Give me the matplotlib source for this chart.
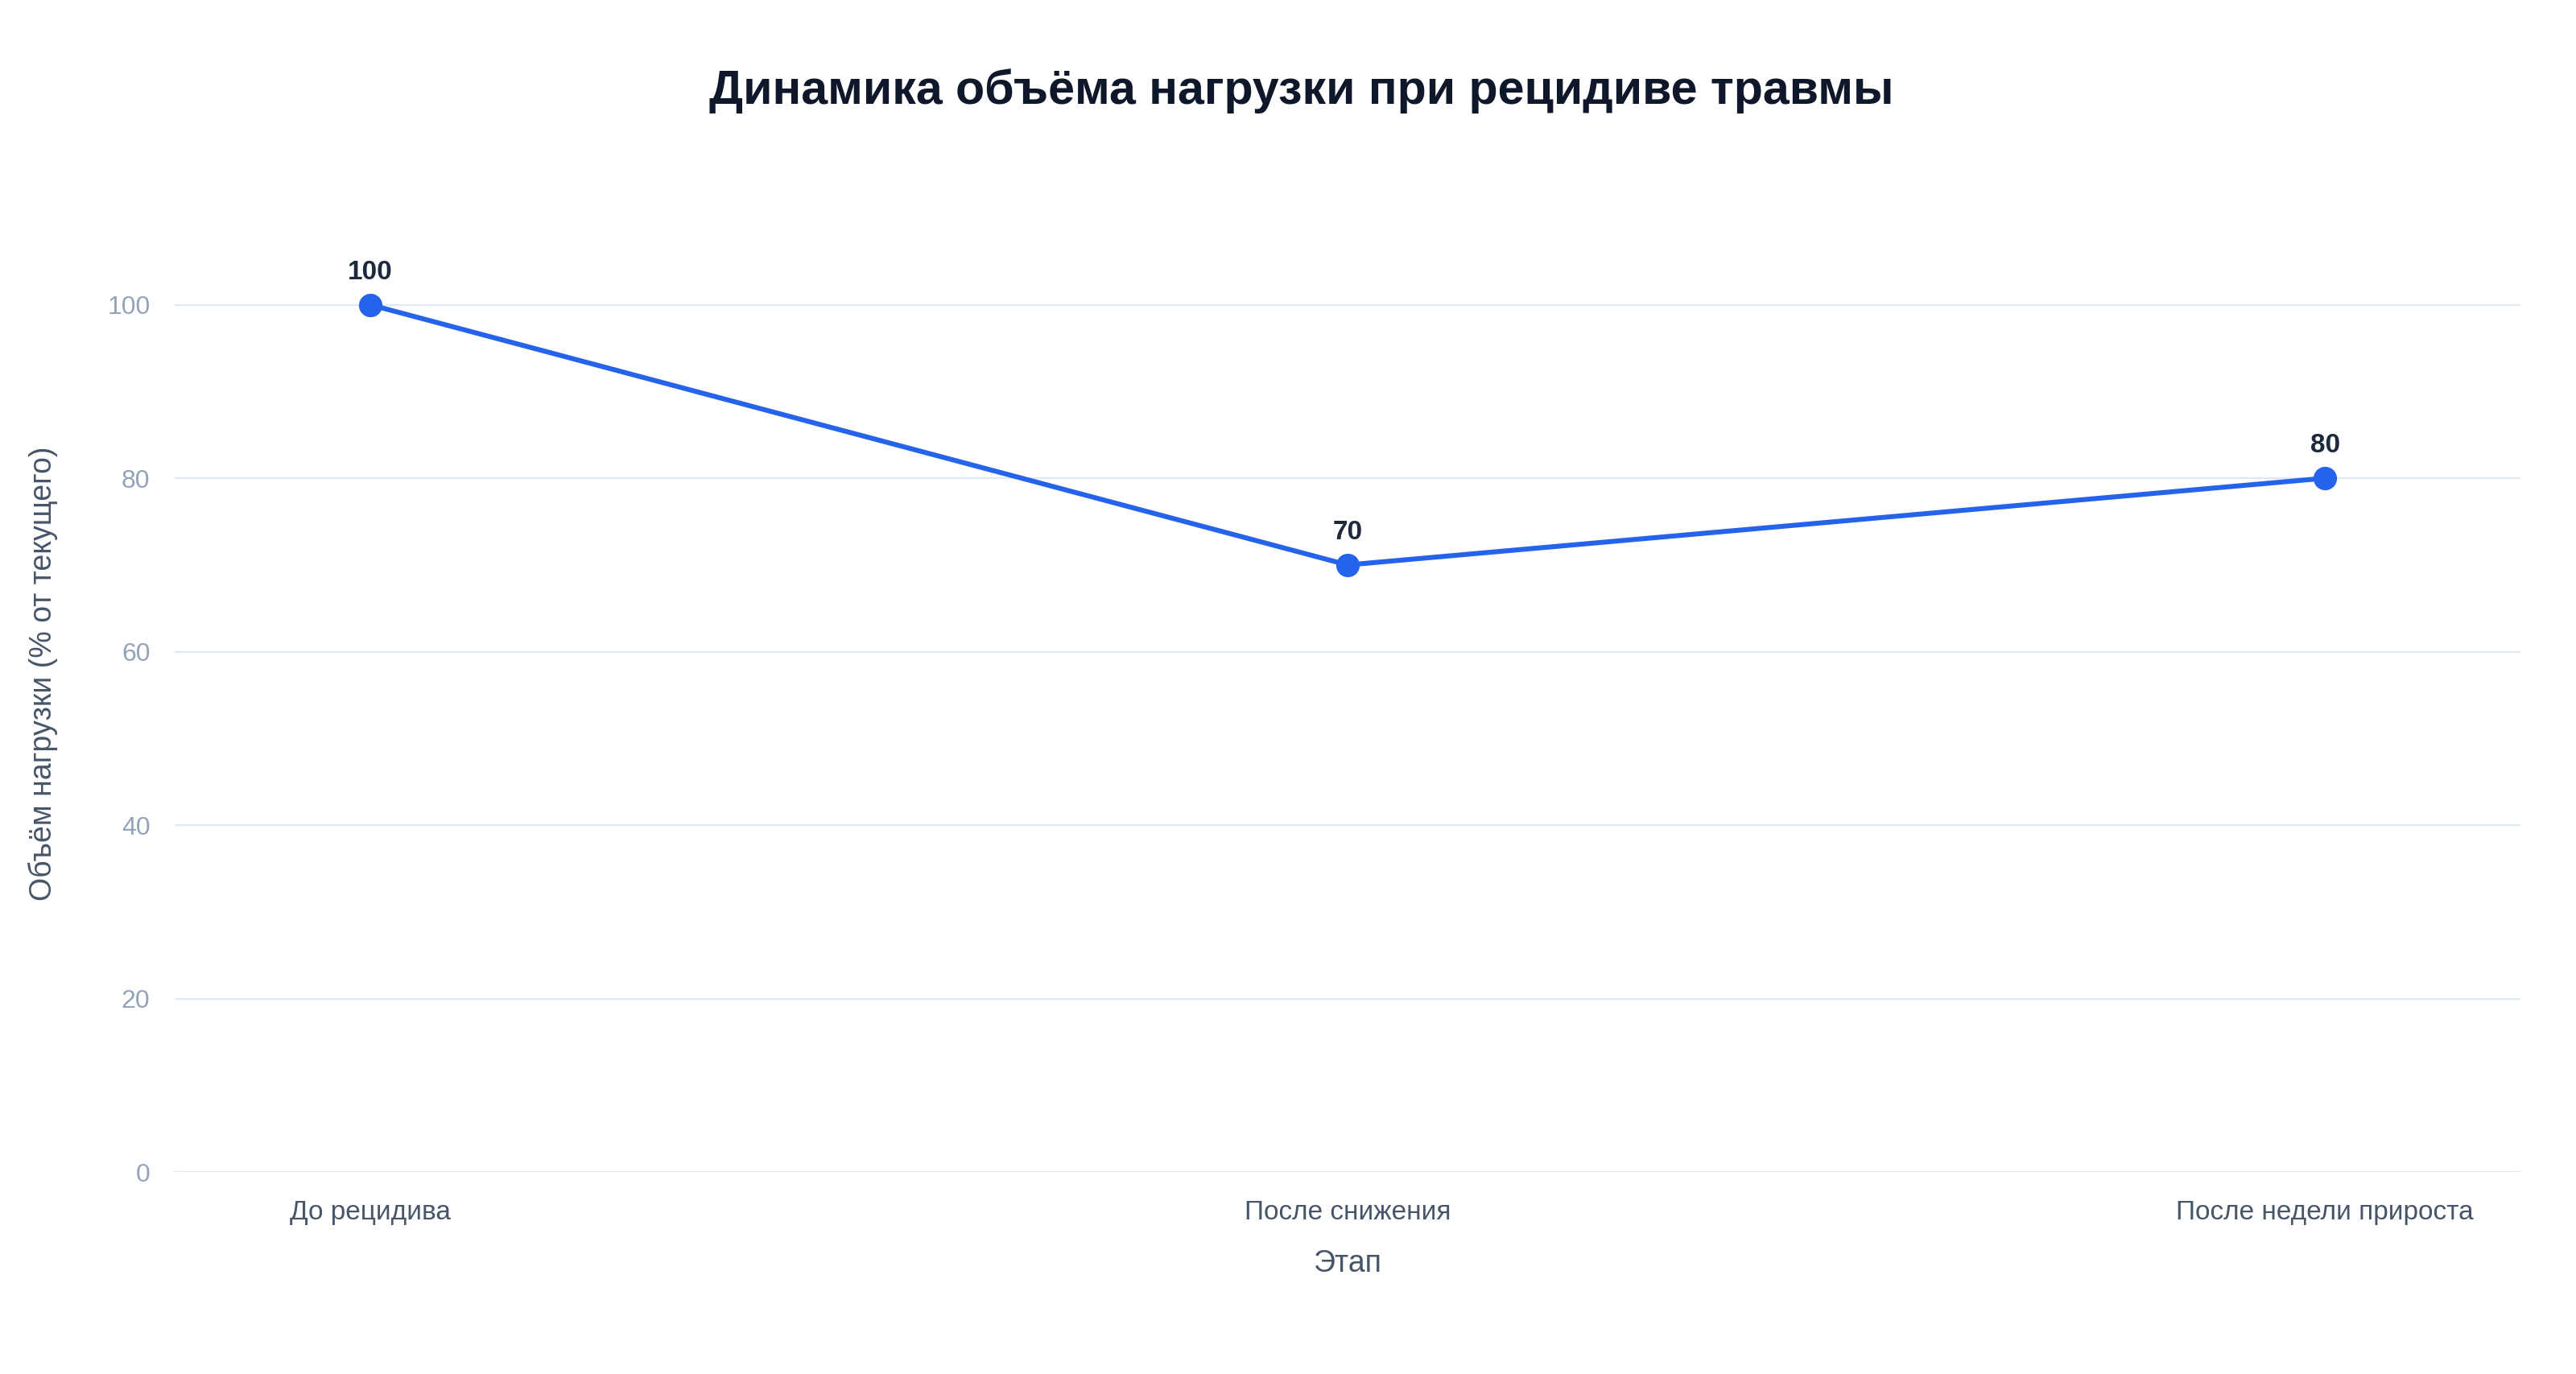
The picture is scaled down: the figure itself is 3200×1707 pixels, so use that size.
import matplotlib.pyplot as plt

plt.rcParams['font.family'] = ['Liberation Sans', 'DejaVu Sans']

# данные
stages = ['До рецидива', 'После снижения', 'После недели прироста']
load_values = [100, 70, 80]
y_ticks = [0, 20, 40, 60, 80, 100]

line_color = '#2563eb'
grid_color = '#e2e8f0'

fig = plt.figure(figsize=(16, 8.535), dpi=200)
# область графика: y от 0 до 115
ax = fig.add_axes([217 / 3200, 1 - 1456 / 1707, (3131 - 217) / 3200, (1456 - 217) / 1707])

x = list(range(len(stages)))
ax.plot(x, load_values, color=line_color, linewidth=2.2, marker='o',
        markersize=9.5, zorder=3, clip_on=False)

for xi, v in zip(x, load_values):
    ax.annotate(f'{v}', xy=(xi, v), xytext=(0, 14.5), textcoords='offset points',
                ha='center', va='center', fontsize=12, fontweight='bold',
                color='#1e293b')

ax.set_xlim(-0.2, 2.2)
ax.set_ylim(0, 115)
ax.set_yticks(y_ticks)
ax.set_xticks(x)
ax.set_xticklabels(stages)

ax.grid(axis='y', color=grid_color, linewidth=0.8)
ax.set_axisbelow(True)
for s in ax.spines.values():
    s.set_visible(False)

ax.tick_params(axis='y', length=0, pad=11, labelsize=11.5, labelcolor='#94a3b8')
ax.tick_params(axis='x', length=0, pad=12.5, labelsize=12, labelcolor='#475569')

ax.set_xlabel('Этап', fontsize=13.5, color='#475569', labelpad=11)
ax.set_ylabel('Объём нагрузки (% от текущего)', fontsize=13.5, color='#475569', labelpad=22)

fig.text(1617 / 3200, 1 - 113 / 1707, 'Динамика объёма нагрузки при рецидиве травмы',
         ha='center', va='center', fontsize=21.3, fontweight='bold', color='#0f172a')

fig.savefig('out.png', dpi=200, facecolor='white')
